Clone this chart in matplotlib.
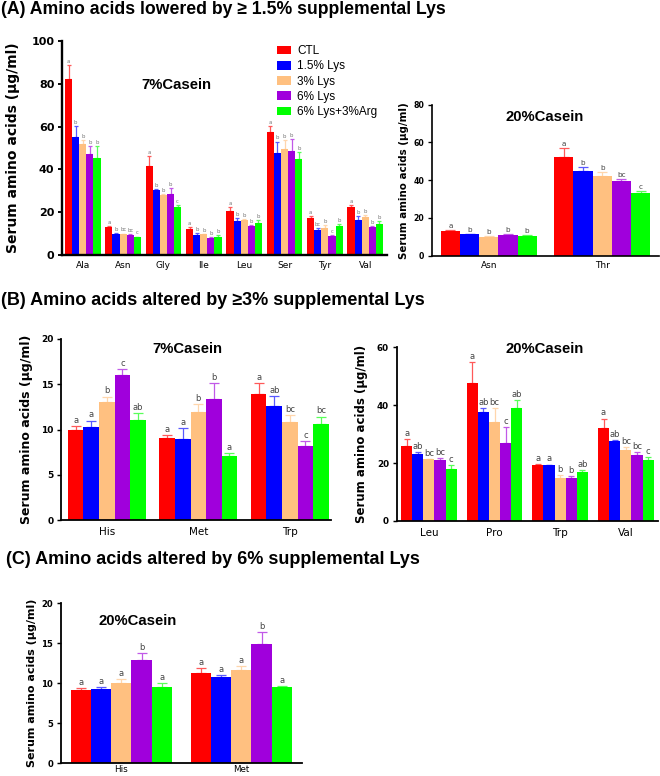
import numpy as np
import matplotlib
matplotlib.use("Agg")
import matplotlib.pyplot as plt
from matplotlib.colors import to_rgb

W, H = 660, 776

groups = ["CTL", "1.5% Lys", "3% Lys", "6% Lys", "6% Lys+3%Arg"]
colors = ["#FF0000", "#0000FF", "#FFC080", "#A000DC", "#00FF00"]

# (A) left: 7% casein
a7_aa = ["Ala", "Asn", "Gly", "Ile", "Leu", "Ser", "Tyr", "Val"]
a7_mean = [
    [82.3, 13.2, 41.5, 12.2, 20.6, 57.5, 17.5, 22.4],
    [55.3, 10.0, 30.3, 9.3, 15.7, 47.5, 11.5, 16.5],
    [52.0, 9.7, 28.2, 9.6, 16.2, 49.4, 12.8, 17.8],
    [47.3, 9.4, 28.7, 7.8, 13.4, 48.6, 8.7, 12.9],
    [45.1, 8.2, 22.3, 8.4, 14.8, 44.7, 13.6, 14.6],
]
a7_err = [
    [6.4, 0.5, 4.9, 0.7, 1.8, 2.8, 0.7, 0.9],
    [4.9, 0.4, 0.7, 0.9, 1.7, 5.5, 1.1, 1.5],
    [1.8, 0.3, 0.3, 0.3, 0.8, 4.3, 1.2, 0.9],
    [3.7, 0.4, 2.5, 0.6, 0.8, 5.4, 0.6, 0.8],
    [5.9, 0.4, 0.9, 0.8, 1.4, 3.4, 0.7, 1.3],
]
a7_let = ["a b b b b", "a b bc bc c", "a b b b c", "a b b b b",
          "a b b b b", "a b b b b", "a bc b c b", "a b b b b"]

# (A) right: 20% casein
a20_aa = ["Asn", "Thr"]
a20_mean = [[13.1, 52.3], [11.3, 44.9], [10.1, 42.2], [10.8, 39.4], [10.6, 33.1]]
a20_err = [[0.5, 4.9], [0.2, 1.9], [0.1, 2.0], [0.5, 1.4], [0.2, 1.2]]
a20_let = ["a b b b b", "a b b bc c"]

# (B) left: 7% casein
b7_aa = ["His", "Met", "Trp"]
b7_mean = [[9.96, 9.04, 13.97], [10.3, 8.93, 12.65], [13.1, 12.0, 10.8],
           [16.0, 13.4, 8.2], [11.1, 7.06, 10.6]]
b7_err = [[0.45, 0.4, 1.15], [0.7, 1.2, 1.1], [0.55, 0.8, 0.8],
          [0.65, 1.7, 0.5], [0.7, 0.35, 0.85]]
b7_let = ["a a b c ab", "a a b b a", "a ab bc c bc"]

# (B) right: 20% casein
b20_aa = ["Leu", "Pro", "Trp", "Val"]
b20_mean = [[26.0, 47.6, 19.35, 32.0], [23.15, 37.7, 19.2, 27.5],
            [21.3, 34.1, 14.9, 24.5], [21.2, 26.8, 14.8, 22.9],
            [18.1, 39.1, 17.0, 21.1]]
b20_err = [[2.2, 7.4, 0.45, 3.4], [0.55, 1.2, 0.3, 0.6], [0.2, 4.8, 0.9, 0.9],
           [0.6, 5.7, 0.8, 1.05], [1.1, 2.8, 0.5, 0.9]]
b20_let = ["a ab bc bc c", "a ab bc c ab", "a a b b ab", "a ab bc bc c"]

# (C) 20% casein
c20_aa = ["His", "Met"]
c20_mean = [[9.16, 11.3], [9.25, 10.8], [10.0, 11.7], [12.9, 14.9], [9.5, 9.5]]
c20_err = [[0.25, 0.6], [0.25, 0.2], [0.5, 0.45], [0.85, 1.5], [0.5, 0.2]]
c20_let = ["a a a b a", "a a a b a"]

YLABEL = "Serum amino acids (\u03bcg/ml)"
TFONT = "Liberation Sans"
AFONT = "DejaVu Sans"


def lighten(c, f=0.35):
    r, g, b = to_rgb(c)
    return (r + (1 - r) * f, g + (1 - g) * f, b + (1 - b) * f)


fig = plt.figure(figsize=(W / 100, H / 100), dpi=100)


def add_ax(x0, x1, y0, y1):
    # pixel box: x0..x1 horizontal, y1 (top) .. y0 (zero line)
    return fig.add_axes([x0 / W, 1 - y0 / H, (x1 - x0) / W, (y0 - y1) / H])


def panel(ax, cats, means, errs, lets, xlim, ymax, ystep, frac, cap,
          lab_fs, lab_x, ytick_fs, xtick_fs, xpad, let_fs, let_col, spw):
    n = len(cats)
    x = np.arange(n)
    w = frac / 5
    for k in range(5):
        xs = x - frac / 2 + w * (k + 0.5)
        ax.bar(xs, means[k], w, color=colors[k], label=groups[k], zorder=2)
        ax.errorbar(xs, means[k], yerr=[np.zeros(n), errs[k]], fmt="none",
                    ecolor=lighten(colors[k]), elinewidth=0.9, capsize=cap,
                    capthick=0.9, zorder=1)
        for i in range(n):
            ax.annotate(lets[i].split()[k], (xs[i], means[k][i] + errs[k][i]),
                        xytext=(0, 0.8), textcoords="offset points",
                        ha="center", va="bottom", fontsize=let_fs,
                        color=let_col, family=AFONT)
    ax.set_xlim(*xlim)
    ax.set_ylim(0, ymax)
    ax.set_yticks(np.arange(0, ymax + 0.1, ystep))
    ax.set_xticks(x)
    ax.set_xticklabels(cats, family=AFONT, fontsize=xtick_fs)
    for t in ax.get_yticklabels():
        t.set_family(AFONT)
        t.set_fontweight("bold")
        t.set_fontsize(ytick_fs)
    ax.tick_params(axis="x", length=0, pad=xpad)
    ax.tick_params(axis="y", length=3, width=spw * 0.8, pad=2.5)
    for s in ["top", "right"]:
        ax.spines[s].set_visible(False)
    for s in ["left", "bottom"]:
        ax.spines[s].set_linewidth(spw)
    ax.set_ylabel(YLABEL, family=AFONT, fontweight="bold", fontsize=lab_fs)
    ax.yaxis.label.set_va("center")
    ax.yaxis.set_label_coords(lab_x, 0.5)


def ftext(x, y, s, size, **kw):
    fig.text(x / W, 1 - y / H, s, fontsize=size, family=TFONT,
             fontweight="bold", **kw)


# titles
ftext(1, 14, "(A) Amino acids lowered by \u2265 1.5% supplemental Lys", 12.7)
ftext(1, 305.5, "(B) Amino acids altered by \u22653% supplemental Lys", 13)
ftext(6, 563.5, "(C) Amino acids altered by 6% supplemental Lys", 13)

# (A) left
ax = add_ax(62, 387, 255, 41)
panel(ax, a7_aa, a7_mean, a7_err, a7_let, (-0.515, 7.54), 100, 20, 0.88, 1.5,
      10, -49 / 325, 8, 6.5, 4.0, 3.8, "#777777", 1.7)
ax.legend(loc="upper left", bbox_to_anchor=(277 / W, 1 - 45 / H),
          bbox_transform=fig.transFigure, frameon=False,
          prop={"family": TFONT, "size": 8.5}, handlelength=1.15,
          handleheight=0.75, handletextpad=0.55, labelspacing=0.28,
          borderpad=0, borderaxespad=0)
ftext(176.7, 85, "7%Casein", 10.7, ha="center", va="center")

# (A) right
ax = add_ax(432, 659, 255.7, 104.7)
panel(ax, a20_aa, a20_mean, a20_err, a20_let, (-0.5, 1.5), 80, 20, 0.845, 3.5,
      7.4, -28 / 227, 5.6, 6.5, 4.0, 5.2, "#444444", 1.2)
ftext(545, 116.7, "20%Casein", 10.7, ha="center", va="center")

# (B) left
ax = add_ax(61, 331, 520.3, 339)
panel(ax, b7_aa, b7_mean, b7_err, b7_let, (-0.5, 2.45), 20, 5, 0.85, 3.5,
      9, -34 / 270, 6.5, 7.5, 5.0, 6, "#444444", 1.3)
ftext(187.8, 349, "7%Casein", 10.7, ha="center", va="center")

# (B) right
ax = add_ax(396.7, 658, 521, 347.3)
panel(ax, b20_aa, b20_mean, b20_err, b20_let, (-0.49, 3.49), 60, 20, 0.848, 2.5,
      8.5, -35 / 261.3, 6.3, 7.5, 5.0, 6, "#444444", 1.3)
ftext(544.7, 349, "20%Casein", 10.7, ha="center", va="center")

# (C)
ax = add_ax(61, 302.3, 763.3, 603.3)
panel(ax, c20_aa, c20_mean, c20_err, c20_let, (-0.503, 1.508), 20, 5, 0.844, 3.5,
      8, -29 / 241.3, 6.1, 6.3, 1.2, 6, "#444444", 1.3)
ftext(137.7, 621, "20%Casein", 10.7, ha="center", va="center")

fig.savefig("out.png", dpi=100)
